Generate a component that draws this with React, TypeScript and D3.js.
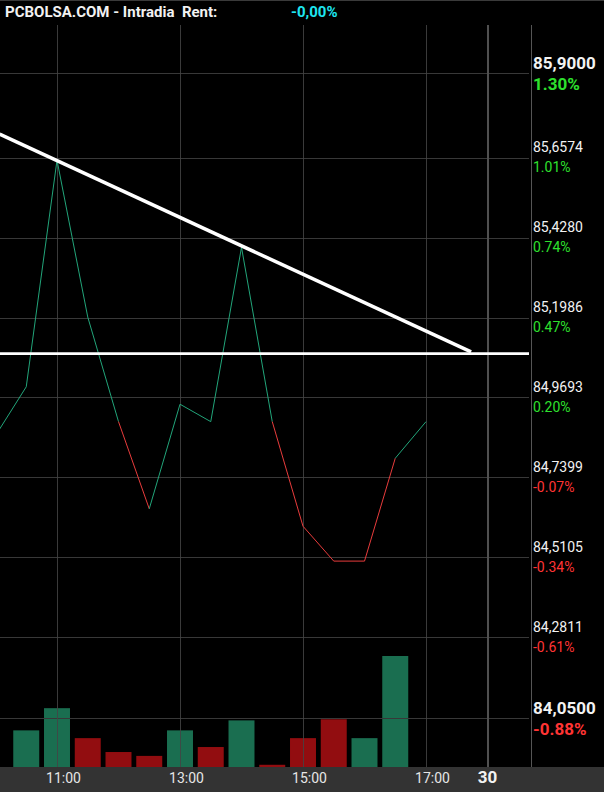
import React from 'react';
import * as d3 from 'd3';

// half-hour closes, 10:00 .. 17:00
const times = ['10:00', '10:30', '11:00', '11:30', '12:00', '12:30', '13:00', '13:30', '14:00', '14:30', '15:00', '15:30', '16:00', '16:30', '17:00'];
const prices = [84.86, 85.0, 85.65, 85.2, 84.9, 84.65, 84.95, 84.9, 85.4, 84.9, 84.6, 84.5, 84.5, 84.795, 84.9];

// volume bars, 10:30 .. 16:30
const volTimes = ['10:30', '11:00', '11:30', '12:00', '12:30', '13:00', '13:30', '14:00', '14:30', '15:00', '15:30', '16:00', '16:30'];
const volumes = [3.3, 5.3, 2.6, 1.35, 1.0, 3.3, 1.8, 4.2, 0.2, 2.6, 4.3, 2.6, 10.0];

const prevClose = 84.8;
const priceTicks = [85.9, 85.6574, 85.428, 85.1986, 84.9693, 84.7399, 84.5105, 84.2811, 84.05];
const timeTicks = ['11:00', '13:00', '15:00', '17:00'];
const dayBreak = '18:00';
const dayLabel = '30';

// drawn annotations
const trendTimes = ['10:04', '17:44'];
const trendPrices = [85.725, 85.1];
const supportPrice = 85.095;

const W = 604;
const H = 792;
const plotLeft = 0;
const plotRight = 529;
const plotTop = 25;
const plotBottom = 767;
const axisX = 531;

const toMin = (s: string) => {
  const [h, m] = s.split(':').map(Number);
  return h * 60 + m;
};

const GREEN_LINE = '#22a57a';
const RED_LINE = '#e83c3c';
const GREEN_BAR = '#1a6e50';
const RED_BAR = '#920d10';
const FONT = 'Roboto, "DejaVu Sans", sans-serif';

const App: React.FC = () => {
  const x = d3.scaleLinear().domain([toMin('11:00'), toMin('17:00')]).range([57, 426]);
  const y = d3.scaleLinear().domain([84.05, 85.9]).range([718, 73]);
  const v = d3.scaleLinear().domain([0, 10]).range([plotBottom, 656]);

  const pts = times.map((t, i) => ({ t: toMin(t), p: prices[i] }));
  const segs = pts.slice(1).map((d, i) => ({ a: pts[i], b: d, up: d.p >= prevClose }));

  const step = x(toMin('11:30')) - x(toMin('11:00'));
  const barW = step * 0.845;

  const bars = volTimes.map((t, i) => {
    const idx = times.indexOf(t);
    const up = prices[idx] >= prices[idx - 1];
    return { t: toMin(t), vol: volumes[i], up };
  });

  const line = d3.line<{ t: number; p: number }>().x(d => x(d.t)).y(d => y(d.p));
  const trend = trendTimes.map((t, i) => ({ t: toMin(t), p: trendPrices[i] }));

  const fmtPrice = (d: number) => d.toFixed(4).replace('.', ',');
  const fmtPct = (d: number) => ((d / prevClose - 1) * 100).toFixed(2) + '%';

  return (
    <svg width={W} height={H} style={{ position: 'absolute', left: 0, top: 0, background: '#000' }} fontFamily={FONT}>
      <defs>
        <clipPath id="plot">
          <rect x={plotLeft} y={plotTop} width={plotRight - plotLeft} height={plotBottom - plotTop} />
        </clipPath>
      </defs>
      <rect x={0} y={0} width={W} height={H} fill="#000" />
      <line x1={0} x2={W} y1={0.5} y2={0.5} stroke="#3a3a3a" />

      {/* volume bars */}
      <g clipPath="url(#plot)">
        {bars.map((b, i) => (
          <rect key={i} x={x(b.t) - barW / 2} y={v(b.vol)} width={barW} height={plotBottom - v(b.vol)}
            fill={b.up ? GREEN_BAR : RED_BAR} />
        ))}
      </g>

      {/* grid */}
      <g>
        {priceTicks.map((d, i) => (
          <line key={i} x1={plotLeft} x2={plotRight} y1={Math.round(y(d)) + 0.5} y2={Math.round(y(d)) + 0.5}
            stroke="#383838" />
        ))}
        {timeTicks.map((t, i) => (
          <line key={i} x1={Math.round(x(toMin(t))) + 0.5} x2={Math.round(x(toMin(t))) + 0.5} y1={plotTop} y2={plotBottom}
            stroke="#444" strokeOpacity={0.85} />
        ))}
        <line x1={Math.round(x(toMin(dayBreak)))} x2={Math.round(x(toMin(dayBreak)))} y1={plotTop} y2={plotBottom}
          stroke="#505050" strokeWidth={2} />
        <line x1={axisX + 0.5} x2={axisX + 0.5} y1={plotTop} y2={plotBottom} stroke="#555" />
      </g>

      {/* price line */}
      <g clipPath="url(#plot)">
        {segs.map((s, i) => (
          <path key={i} d={line([s.a, s.b]) || ''} fill="none" stroke={s.up ? GREEN_LINE : RED_LINE} strokeWidth={1} />
        ))}
        <path d={line(trend) || ''} stroke="#fff" strokeWidth={3.5} fill="none" />
        <line x1={plotLeft} x2={plotRight} y1={y(supportPrice)} y2={y(supportPrice)} stroke="#fff" strokeWidth={2.6} />
      </g>

      {/* right axis labels */}
      <g>
        {priceTicks.map((d, i) => {
          const edge = i === 0 || i === priceTicks.length - 1;
          const pct = d / prevClose - 1;
          return (
            <g key={i}>
              <text x={533} y={y(d) - (edge ? 4 : 5.5)} fill="#f2f2f2" fontSize={edge ? 17 : 14}
                fontWeight={edge ? 'bold' : 'normal'}>{fmtPrice(d)}</text>
              <text x={533} y={y(d) + (edge ? 17 : 14.5)} fill={pct >= 0 ? '#2ee02e' : '#ff3434'}
                fontSize={edge ? 17 : 14} fontWeight={edge ? 'bold' : 'normal'}>{fmtPct(d)}</text>
            </g>
          );
        })}
      </g>

      {/* time axis */}
      <rect x={0} y={plotBottom} width={W} height={H - plotBottom} fill="#333" />
      {timeTicks.map((t, i) => (
        <text key={i} x={x(toMin(t)) + 6.5} y={783} textAnchor="middle" fill="#e6e6e6" fontSize={14}>{t}</text>
      ))}
      <text x={x(toMin(dayBreak))} y={783} textAnchor="middle" fill="#f2f2f2" fontSize={17} fontWeight="bold">{dayLabel}</text>

      {/* header */}
      <text x={5} y={17} fill="#f2f2f2" fontSize={15} fontWeight="bold">PCBOLSA.COM - Intradia{'\u00a0\u00a0'}Rent:</text>
      <text x={291} y={17} fill="#1ee6f0" fontSize={15} fontWeight="bold">-0,00%</text>
    </svg>
  );
};

export default App;
